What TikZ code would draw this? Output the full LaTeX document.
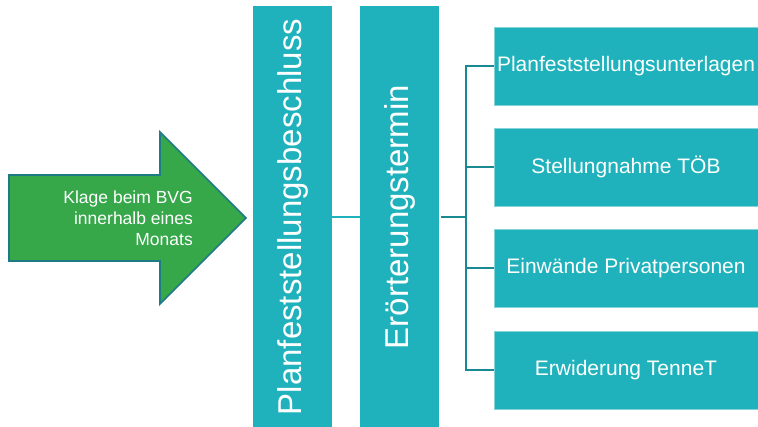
\documentclass[tikz,border=0pt]{standalone}
\usepackage{fontspec}
\setmainfont{Liberation Sans}
\begin{document}
\definecolor{tealbox}{HTML}{1FB2BC}
\definecolor{tealline}{HTML}{1A8A92}
\definecolor{arrowgreen}{HTML}{36A84A}
\definecolor{arrowedge}{HTML}{1E7B86}
\begin{tikzpicture}[x=1pt,y=-1pt,
  colbox/.style={fill=tealbox, draw=none, text=white, inner sep=0pt},
  vbox/.style={colbox, minimum width=422pt, minimum height=79pt, rotate=90,
    font=\fontsize{33}{38}\selectfont},
  hbox/.style={colbox, draw=tealbox!55!white, line width=0.6pt,
    minimum width=264pt, minimum height=78pt,
    font=\fontsize{21}{25}\selectfont},
  bracket/.style={draw=tealline, line width=2.6pt},
  link/.style={draw=tealbox, line width=2.6pt}]
\useasboundingbox (0,0) rectangle (758,427);

% green arrow pointing at the decision column
\filldraw[fill=arrowgreen, draw=arrowedge, line width=1.6pt]
  (9,175) -- (160,175) -- (160,132) -- (246,218) -- (160,304) -- (160,261) -- (9,261) -- cycle;
\node[anchor=east, align=right, text=white, inner sep=0pt,
  font=\fontsize{17.5}{21}\selectfont] (klage) at (193,218)
  {Klage beim BVG\\innerhalb eines\\Monats};

% two tall columns with vertical titles
\node[vbox] (beschluss) at (292.5,217) {Planfeststellungsbeschluss};
\node[vbox] (termin) at (399.5,217) {Erörterungstermin};

% four input boxes on the right
\node[hbox] (r1) at (626,66) {Planfeststellungsunterlagen};
\node[hbox] (r2) at (626,167) {Stellungnahme TÖB};
\node[hbox] (r3) at (626,268) {Einwände Privatpersonen};
\node[hbox] (r4) at (626,370) {Erwiderung TenneT};

% connectors
\draw[link] (beschluss.south) -- (termin.north);
\coordinate (jn) at (466,217);
\draw[bracket] ([xshift=2pt]termin.south) -- (jn);
\draw[bracket, line cap=rect] (jn |- r1.west) -- (jn |- r4.west);
\foreach \r in {r1,r2,r3,r4}
  \draw[bracket] (jn |- \r.west) -- (\r.west);
\end{tikzpicture}
\end{document}
